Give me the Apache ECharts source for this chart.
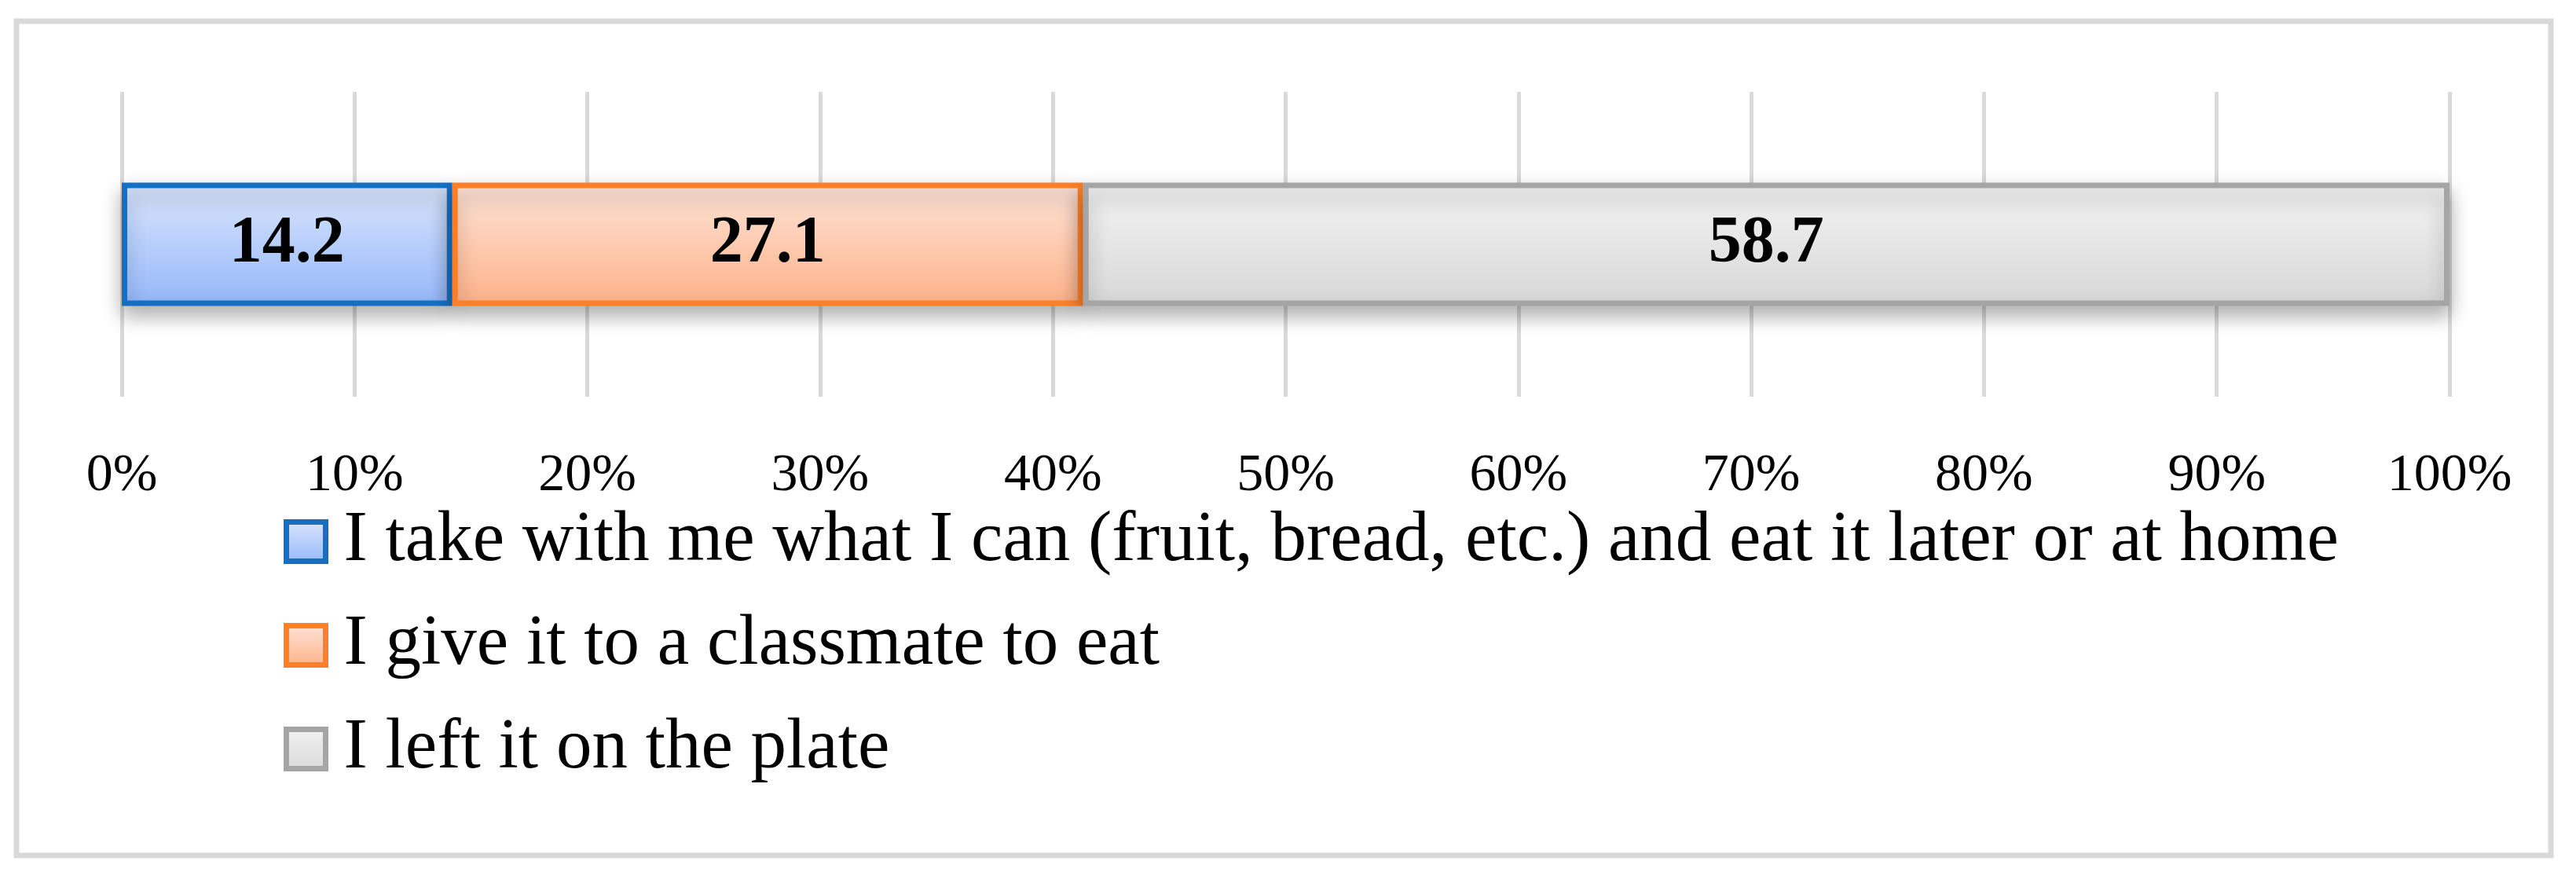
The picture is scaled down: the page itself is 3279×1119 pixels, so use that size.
<!DOCTYPE html>
<html>
<head>
<meta charset="utf-8">
<script src="https://cdn.jsdelivr.net/npm/echarts@6/dist/echarts.min.js"></script>
<style>
  html, body { margin: 0; padding: 0; background: #fff; }
  #chart { width: 3279px; height: 1119px; }
</style>
</head>
<body>
<div id="chart"></div>
<script>
// one stacked bar, shares in percent
const categories = [''];
const seriesNames = [
  'I take with me what I can (fruit, bread, etc.) and eat it later or at home',
  'I give it to a classmate to eat',
  'I left it on the plate'
];
const takeHome = [14.2];
const giveClassmate = [27.1];
const leftOnPlate = [58.7];

const serif = '"Liberation Serif", "DejaVu Serif", serif';

function grad(top, bottom) {
  return new echarts.graphic.LinearGradient(0, 0, 0, 1, [
    { offset: 0, color: top },
    { offset: 1, color: bottom }
  ]);
}

function barSeries(name, values, top, bottom, border) {
  return {
    name: name,
    type: 'bar',
    stack: 'total',
    barWidth: 157,
    data: values,
    itemStyle: {
      color: grad(top, bottom),
      borderColor: border,
      borderWidth: 7,
      shadowColor: 'rgba(0,0,0,0.3)',
      shadowBlur: 24,
      shadowOffsetY: 12
    },
    label: {
      show: true,
      position: 'inside',
      formatter: p => p.value.toFixed(1),
      color: '#000',
      fontFamily: serif,
      fontWeight: 'bold',
      fontSize: 84
    }
  };
}

const chart = echarts.init(document.getElementById('chart'));
chart.setOption({
  animation: false,
  backgroundColor: '#fff',
  graphic: [{
    type: 'rect',
    shape: { x: 21, y: 27, width: 3226, height: 1062 },
    style: { fill: 'none', stroke: '#d9d9d9', lineWidth: 7 },
    silent: true
  }],
  grid: { left: 155, right: 161, top: 117, height: 388 },
  xAxis: {
    type: 'value',
    min: 0,
    max: 100,
    interval: 10,
    axisLine: { show: false },
    axisTick: { show: false },
    splitLine: { lineStyle: { color: '#d9d9d9', width: 5 } },
    axisLabel: {
      formatter: '{value}%',
      color: '#000',
      fontFamily: serif,
      fontSize: 68,
      margin: 67
    }
  },
  yAxis: {
    type: 'category',
    data: categories,
    axisLine: { show: false },
    axisTick: { show: false },
    axisLabel: { show: false },
    splitLine: { show: false }
  },
  legend: {
    orient: 'vertical',
    left: 356,
    top: 639,
    itemWidth: 50,
    itemHeight: 50,
    itemGap: 41,
    icon: 'rect',
    itemStyle: { borderWidth: 7, shadowBlur: 0, shadowOffsetY: 0 },
    textStyle: {
      color: '#000',
      fontFamily: serif,
      fontSize: 91,
      lineHeight: 90,
      padding: [0, 0, 0, 18]
    },
    data: seriesNames
  },
  series: [
    barSeries(seriesNames[0], takeHome, '#dce7fd', '#94b7fa', '#1570c4'),
    barSeries(seriesNames[1], giveClassmate, '#fee5d9', '#fdb188', '#fe7f27'),
    barSeries(seriesNames[2], leftOnPlate, '#f3f3f3', '#d8d8d8', '#a5a5a5')
  ]
});
</script>
</body>
</html>
